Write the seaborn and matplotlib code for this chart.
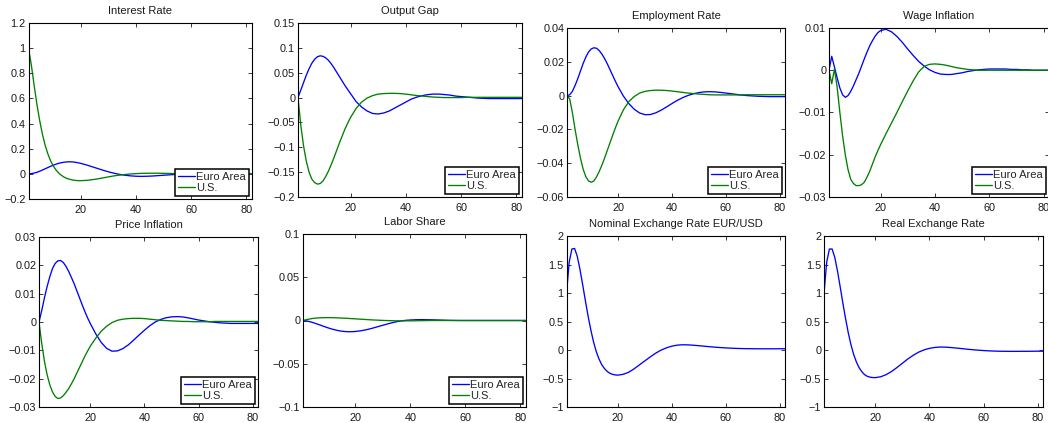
import matplotlib
matplotlib.use("Agg")
import matplotlib.pyplot as plt
from matplotlib.lines import Line2D
from matplotlib.ticker import FixedLocator, FuncFormatter
import pandas as pd
import seaborn as sns

# Quarters after the shock (dense early, every second quarter later on)
periods = list(range(1, 21)) + list(range(22, 83, 2))

# Impulse responses: Euro Area (ea) and U.S. (us)
interest_ea = [0, 0.002, 0.006, 0.012, 0.02, 0.03, 0.04, 0.05, 0.06, 0.069,
               0.077, 0.084, 0.089, 0.093, 0.095, 0.096, 0.095, 0.092, 0.088, 0.083,
               0.071, 0.057, 0.043, 0.029, 0.016, 0.005, -0.004, -0.011, -0.016, -0.019,
               -0.02, -0.019, -0.017, -0.014, -0.011, -0.008, -0.005, -0.003, -0.001, 0.0,
               0.001, 0.001, 0.002, 0.002, 0.002, 0.001, 0.001, 0.001, 0.001, 0.0, 0.0]
interest_us = [1.0, 0.87, 0.71, 0.56, 0.43, 0.32, 0.23, 0.16, 0.104, 0.062,
               0.03, 0.005, -0.013, -0.027, -0.037, -0.044, -0.049, -0.052, -0.054, -0.054,
               -0.052, -0.047, -0.04, -0.032, -0.024, -0.016, -0.01, -0.005, -0.001, 0.002,
               0.004, 0.005, 0.005, 0.005, 0.004, 0.003, 0.002, 0.002, 0.001, 0.001,
               0.0, 0.0, 0.0, 0.0, 0.0, 0.0, 0.0, 0.0, 0.0, 0.0, 0.0]

output_ea = [0, 0.015, 0.03, 0.045, 0.058, 0.069, 0.077, 0.082, 0.084, 0.083,
             0.08, 0.075, 0.068, 0.06, 0.051, 0.042, 0.033, 0.024, 0.016, 0.008,
             -0.008, -0.019, -0.027, -0.032, -0.033, -0.031, -0.027, -0.021, -0.015, -0.009,
             -0.003, 0.001, 0.004, 0.006, 0.007, 0.007, 0.006, 0.005, 0.003, 0.002,
             0.001, 0.0, -0.001, -0.0015, -0.002, -0.002, -0.002, -0.002, -0.002, -0.002, -0.002]
output_us = [0, -0.055, -0.097, -0.128, -0.15, -0.164, -0.171, -0.174, -0.173, -0.168,
             -0.159, -0.148, -0.135, -0.121, -0.106, -0.091, -0.077, -0.063, -0.051, -0.04,
             -0.022, -0.009, -0.001, 0.004, 0.007, 0.008, 0.0085, 0.0085, 0.008, 0.007,
             0.0055, 0.004, 0.003, 0.002, 0.001, 0.0005, 0.0, 0.0, 0.0, 0.0,
             0.0005, 0.0005, 0.0005, 0.0005, 0.0005, 0.0005, 0.0005, 0.0005, 0.0005, 0.0005, 0.0005]

employment_ea = [0, 0.0005, 0.0025, 0.006, 0.01, 0.0145, 0.019, 0.0228, 0.0258, 0.0276,
                 0.0283, 0.028, 0.0266, 0.0245, 0.0218, 0.0187, 0.0153, 0.0118, 0.0084, 0.0052,
                 -0.0004, -0.0048, -0.0081, -0.0103, -0.0113, -0.0112, -0.0102, -0.0086, -0.0067, -0.0047,
                 -0.0028, -0.0012, 0.0001, 0.0011, 0.0018, 0.0022, 0.0023, 0.0022, 0.0019, 0.0015,
                 0.0011, 0.0007, 0.0003, 0.0, -0.0002, -0.0004, -0.0005, -0.0006, -0.0006, -0.0006, -0.0006]
employment_us = [0, -0.002, -0.01, -0.02, -0.029, -0.037, -0.0435, -0.048, -0.0505, -0.0513,
                 -0.0505, -0.048, -0.0448, -0.041, -0.0368, -0.0323, -0.0278, -0.0233, -0.019, -0.015,
                 -0.0083, -0.0035, -0.0005, 0.0015, 0.0025, 0.003, 0.0032, 0.0032, 0.003, 0.0027,
                 0.0023, 0.0019, 0.0015, 0.0012, 0.0009, 0.0007, 0.0005, 0.0004, 0.0004, 0.0004,
                 0.0004, 0.0004, 0.0004, 0.0005, 0.0005, 0.0005, 0.0005, 0.0005, 0.0005, 0.0005, 0.0005]

wage_ea = [0, 0.0033, 0.0008, -0.0018, -0.0042, -0.0058, -0.0064, -0.006, -0.005, -0.0037,
           -0.0022, -0.0007, 0.001, 0.0027, 0.0043, 0.0058, 0.007, 0.0081, 0.0089, 0.0094,
           0.0097, 0.0091, 0.008, 0.0066, 0.005, 0.0035, 0.0021, 0.001, 0.0001, -0.0005,
           -0.0009, -0.001, -0.001, -0.0008, -0.0006, -0.0003, -0.0001, 0.0001, 0.0002, 0.0003,
           0.0003, 0.0003, 0.0003, 0.0002, 0.0002, 0.0001, 0.0001, 0.0, 0.0, 0.0, 0.0]
wage_us = [0, -0.0032, 0.0003, -0.004, -0.01, -0.0155, -0.02, -0.0235, -0.0258, -0.0268,
           -0.0273, -0.0273, -0.0271, -0.0265, -0.0253, -0.0239, -0.0222, -0.0205, -0.019, -0.0176,
           -0.015, -0.0125, -0.01, -0.0074, -0.0049, -0.0025, -0.0004, 0.0009, 0.0014, 0.0015,
           0.0014, 0.0012, 0.0009, 0.0006, 0.0004, 0.0002, 0.0001, 0.0, 0.0, 0.0,
           0.0, 0.0, 0.0, 0.0, 0.0, 0.0, 0.0, 0.0, 0.0, 0.0, 0.0]

price_ea = [0, 0.004, 0.0085, 0.0125, 0.016, 0.0189, 0.0207, 0.0216, 0.0217, 0.021,
            0.0196, 0.0178, 0.0157, 0.0135, 0.011, 0.0085, 0.006, 0.0036, 0.0014, -0.0006,
            -0.0042, -0.0072, -0.0093, -0.0103, -0.0102, -0.0094, -0.0081, -0.0064, -0.0046, -0.0029,
            -0.0013, 0.0, 0.0009, 0.0015, 0.0018, 0.0019, 0.0018, 0.0015, 0.0011, 0.0007,
            0.0004, 0.0001, -0.0001, -0.0003, -0.0004, -0.0005, -0.0005, -0.0005, -0.0005, -0.0005, -0.0005]
price_us = [0, -0.0075, -0.0138, -0.0186, -0.0222, -0.0247, -0.0263, -0.027, -0.0268, -0.026,
            -0.0248, -0.0235, -0.0218, -0.02, -0.018, -0.016, -0.014, -0.012, -0.0102, -0.0085,
            -0.0057, -0.0033, -0.0015, -0.0002, 0.0006, 0.001, 0.0012, 0.0013, 0.0013, 0.0012,
            0.001, 0.0008, 0.0006, 0.0005, 0.0004, 0.0003, 0.0002, 0.0002, 0.0001, 0.0001,
            0.0001, 0.0001, 0.0002, 0.0002, 0.0002, 0.0002, 0.0002, 0.0002, 0.0002, 0.0002, 0.0002]

labor_ea = [0, -0.0003, -0.001, -0.0018, -0.0028, -0.0039, -0.005, -0.0062, -0.0073, -0.0084,
            -0.0094, -0.0103, -0.0111, -0.0118, -0.0123, -0.0127, -0.0129, -0.013, -0.0129, -0.0127,
            -0.0119, -0.0107, -0.0091, -0.0073, -0.0055, -0.0037, -0.0021, -0.0008, 0.0001, 0.0006,
            0.0009, 0.001, 0.0009, 0.0008, 0.0006, 0.0004, 0.0002, 0.0001, 0.0, 0.0,
            0.0, 0.0, 0.0, 0.0, 0.0, 0.0, 0.0, 0.0, 0.0, 0.0, 0.0]
labor_us = [0, 0.0008, 0.0015, 0.0021, 0.0026, 0.0029, 0.0031, 0.0032, 0.0033, 0.0033,
            0.0033, 0.0032, 0.0031, 0.003, 0.0028, 0.0027, 0.0025, 0.0023, 0.0021, 0.0019,
            0.0015, 0.0011, 0.0007, 0.0004, 0.0001, -0.0001, -0.0003, -0.0004, -0.0004, -0.0004,
            -0.0003, -0.0002, -0.0001, 0.0, 0.0, 0.0, 0.0, 0.0, 0.0, 0.0,
            0.0, 0.0, 0.0, 0.0, 0.0, 0.0, 0.0, 0.0, 0.0, 0.0, 0.0]

nominal_fx = [1.0, 1.55, 1.78, 1.79, 1.65, 1.42, 1.15, 0.87, 0.6, 0.36,
              0.15, -0.02, -0.15, -0.25, -0.32, -0.37, -0.405, -0.425, -0.435, -0.44,
              -0.425, -0.39, -0.33, -0.26, -0.19, -0.12, -0.055, 0.0, 0.04, 0.07,
              0.088, 0.095, 0.093, 0.087, 0.079, 0.07, 0.061, 0.053, 0.046, 0.04,
              0.035, 0.031, 0.028, 0.026, 0.025, 0.024, 0.024, 0.024, 0.024, 0.025, 0.025]
real_fx = [1.0, 1.55, 1.78, 1.78, 1.63, 1.39, 1.11, 0.82, 0.55, 0.3,
           0.09, -0.08, -0.21, -0.31, -0.38, -0.43, -0.46, -0.475, -0.482, -0.483,
           -0.468, -0.43, -0.375, -0.305, -0.23, -0.155, -0.09, -0.035, 0.005, 0.032,
           0.048, 0.055, 0.053, 0.046, 0.037, 0.027, 0.017, 0.008, 0.0, -0.007,
           -0.012, -0.016, -0.019, -0.02, -0.021, -0.021, -0.02, -0.02, -0.019, -0.018, -0.018]

regions = ["Euro Area", "U.S."]
titles = ["Interest Rate", "Output Gap", "Employment Rate", "Wage Inflation",
          "Price Inflation", "Labor Share", "Nominal Exchange Rate EUR/USD", "Real Exchange Rate"]
x_ticks = [20, 40, 60, 80]
y_ticks_interest = [-0.2, 0, 0.2, 0.4, 0.6, 0.8, 1, 1.2]
y_ticks_output = [-0.2, -0.15, -0.1, -0.05, 0, 0.05, 0.1, 0.15]
y_ticks_employment = [-0.06, -0.04, -0.02, 0, 0.02, 0.04]
y_ticks_wage = [-0.03, -0.02, -0.01, 0, 0.01]
y_ticks_price = [-0.03, -0.02, -0.01, 0, 0.01, 0.02, 0.03]
y_ticks_labor = [-0.1, -0.05, 0, 0.05, 0.1]
y_ticks_fx = [-1, -0.5, 0, 0.5, 1, 1.5, 2]

panels = [
    (titles[0], [interest_ea, interest_us], y_ticks_interest),
    (titles[1], [output_ea, output_us], y_ticks_output),
    (titles[2], [employment_ea, employment_us], y_ticks_employment),
    (titles[3], [wage_ea, wage_us], y_ticks_wage),
    (titles[4], [price_ea, price_us], y_ticks_price),
    (titles[5], [labor_ea, labor_us], y_ticks_labor),
    (titles[6], [nominal_fx], y_ticks_fx),
    (titles[7], [real_fx], y_ticks_fx),
]

# axes boxes in pixels: left, right, top, bottom
W, H = 1048, 423
boxes = [
    (28.5, 252, 23, 199), (298, 522, 23, 197), (567, 785, 28, 197), (829, 1049, 28, 197),
    (39, 258, 237, 407), (303, 526, 234, 407), (566.5, 785, 236.5, 407), (824, 1043, 236.5, 407),
]
palette = {"Euro Area": "#0000ff", "U.S.": "#008000"}

sns.set_theme(style="ticks")
plt.rcParams["font.family"] = ["Liberation Sans", "DejaVu Sans"]
plt.rcParams["axes.unicode_minus"] = True


def fmt(v, _pos):
    v = round(v, 6)
    if v == 0:
        return "0"
    return f"{v:g}".replace("-", "\u2212")


fig = plt.figure(figsize=(W / 100, H / 100), dpi=100)
fig.patch.set_facecolor("white")

for (title, series, yticks), (l, r, t, b) in zip(panels, boxes):
    ax = fig.add_axes([l / W, 1 - b / H, (r - l) / W, (b - t) / H])
    names = regions[:len(series)]
    df = pd.DataFrame({
        "period": periods * len(series),
        "value": [v for s in series for v in s],
        "region": [n for n, s in zip(names, series) for _ in s],
    })
    sns.lineplot(data=df, x="period", y="value", hue="region", hue_order=names,
                 palette=palette, linewidth=0.95, legend=False, ax=ax,
                 estimator=None, errorbar=None)
    ax.set_xlim(1, 82)
    ax.set_ylim(yticks[0], yticks[-1])
    ax.xaxis.set_major_locator(FixedLocator(x_ticks))
    ax.yaxis.set_major_locator(FixedLocator(yticks))
    ax.xaxis.set_major_formatter(FuncFormatter(fmt))
    ax.yaxis.set_major_formatter(FuncFormatter(fmt))
    ax.set_xlabel("")
    ax.set_ylabel("")
    ax.set_title(title, fontsize=8, pad=6.5, color="#1a1a1a")
    ax.tick_params(direction="in", length=3, width=0.6, top=True, right=True,
                   labelsize=7.8, colors="#1a1a1a")
    ax.tick_params(axis="x", pad=4)
    ax.tick_params(axis="y", pad=2)
    for sp in ax.spines.values():
        sp.set_visible(True)
        sp.set_linewidth(0.8)
        sp.set_color("black")
    if len(series) == 2:
        handles = [Line2D([], [], color=palette[n], linewidth=0.95) for n in names]
        leg = ax.legend(handles, names, loc="lower right", fontsize=8,
                        handlelength=1.5, handletextpad=0.15, borderpad=0.25,
                        labelspacing=0.15, borderaxespad=0.27, fancybox=False,
                        framealpha=1, edgecolor="black")
        leg.get_frame().set_linewidth(1.1)

fig.savefig("out.png", dpi=100, facecolor="white")
